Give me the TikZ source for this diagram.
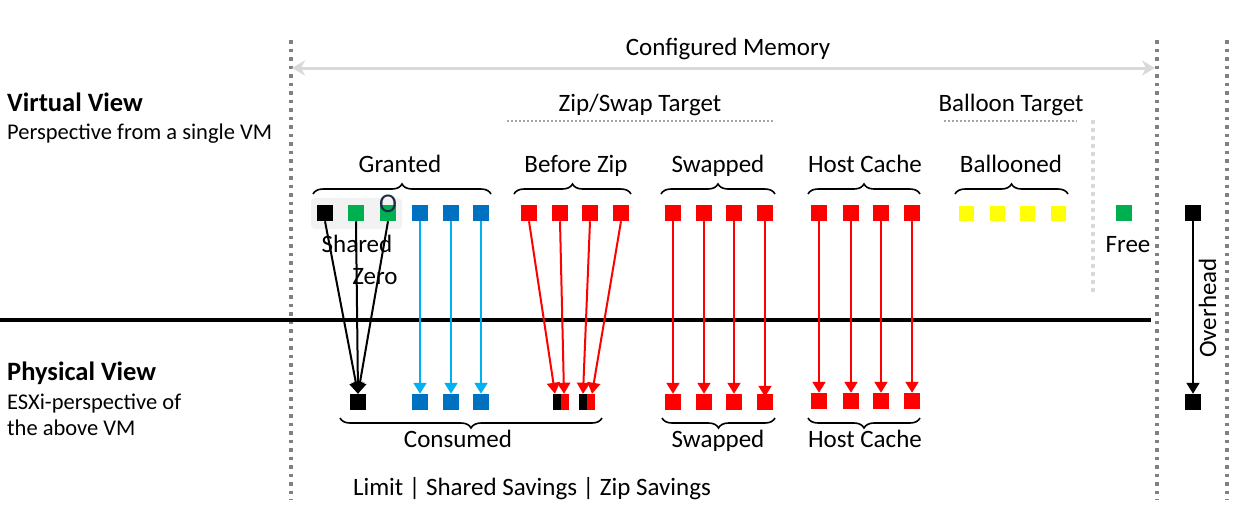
\documentclass[tikz,border=0pt]{standalone}
\usepackage{fontspec}
\setmainfont{Carlito}
\usetikzlibrary{arrows.meta,decorations.pathreplacing}
\definecolor{cRed}{HTML}{FF0000}
\definecolor{cBlue}{HTML}{0070C0}
\definecolor{cLBlue}{HTML}{00B0F0}
\definecolor{cGreen}{HTML}{00B050}
\definecolor{cYellow}{HTML}{FFFF00}
\definecolor{cGray}{HTML}{808080}
\definecolor{cLGray}{HTML}{D9D9D9}
\definecolor{cShade}{HTML}{F2F2F2}
\definecolor{cDot}{HTML}{A6A6A6}
\definecolor{cNavy}{HTML}{1F2A44}
\tikzset{
  sq/.style={minimum size=16.5pt, inner sep=0pt, outer sep=0pt},
  ysq/.style={minimum size=15pt, inner sep=0pt, outer sep=0pt, fill=cYellow},
  lbl/.style={font=\fontsize{25}{30}\selectfont, inner sep=0pt, text height=17pt, text depth=5pt},
  sub/.style={font=\fontsize{22.5}{27}\selectfont, inner sep=0pt, anchor=west, text height=15pt, text depth=5pt},
  hdr/.style={font=\fontsize{26.5}{31}\selectfont\bfseries, inner sep=0pt, anchor=west, text height=18pt, text depth=5pt},
  arr/.style={line width=2pt, -{Triangle[length=11pt,width=13pt]}},
  vdots/.style={draw=cGray, line width=3.5pt, dash pattern=on 3.5pt off 5pt},
  hdots/.style={draw=cDot, line width=2pt, dash pattern=on 2pt off 2pt},
  brc/.style={decorate, decoration={brace, amplitude=10pt, aspect=0.5}, line width=1.6pt},
  split/.style={sq, fill=cRed, path picture={\fill[black] (path picture bounding box.south west) rectangle (path picture bounding box.north);}}
}
\begin{document}
\begin{tikzpicture}[x=1pt,y=-1pt]
\useasboundingbox (0,0) rectangle (1252,520);
% vertical dotted boundaries
\coordinate (v1t) at (291,40); \coordinate (v1b) at (291,500);
\coordinate (v2t) at (1157,40); \coordinate (v2b) at (1157,500);
\coordinate (v3t) at (1227,40); \coordinate (v3b) at (1227,500);
\draw[vdots] (v1t) -- (v1b);
\draw[vdots] (v2t) -- (v2b);
\draw[vdots] (v3t) -- (v3b);
% configured memory
\coordinate (cmL) at (292,68); \coordinate (cmR) at (1155,68);
\draw[cLGray, line width=3pt, {Stealth[length=13pt,width=15pt,inset=4pt]}-{Stealth[length=13pt,width=15pt,inset=4pt]}] (cmL) -- (cmR);
\node[lbl] (cm) at (728,49) {Configured Memory};
% side headings
\node[hdr] (vv) at (7,105) {Virtual View};
\node[sub] (vvs) at (7,134) {Perspective from a single VM};
\node[hdr] (pv) at (7,374) {Physical View};
\node[sub] (pvs1) at (7,404) {ESXi-perspective of};
\node[sub] (pvs2) at (7,430) {the above VM};
% divider
\coordinate (hl1) at (0,320); \coordinate (hl2) at (1151,320);
\draw[black, line width=4pt] (hl1) -- (hl2);
% targets
\node[lbl] (zst) at (640,105) {Zip/Swap Target};
\coordinate (zs1) at (507,121); \coordinate (zs2) at (773,121);
\draw[hdots] (zs1) -- (zs2);
\node[lbl] (bt) at (1011,105) {Balloon Target};
\coordinate (bt1) at (944,121); \coordinate (bt2) at (1077,121);
\draw[hdots] (bt1) -- (bt2);
\coordinate (bv1) at (1093,120); \coordinate (bv2) at (1093,293);
\draw[cLGray, line width=4pt, dash pattern=on 4pt off 4pt] (bv1) -- (bv2);
% group labels and braces (top)
\node[lbl] (lg) at (400,166) {Granted};
\draw[brc] (313,194) -- (491,194);
\node[lbl] (lbz) at (576,166) {Before Zip};
\draw[brc] (514,194) -- (631,194);
\node[lbl] (lsw) at (718,166) {Swapped};
\draw[brc] (661,194) -- (775,194);
\node[lbl] (lhc) at (865,166) {Host Cache};
\draw[brc] (808,194) -- (920,194);
\node[lbl] (lbl2) at (1011,166) {Ballooned};
\draw[brc] (955,194) -- (1068,194);
% shaded area
\fill[cShade, rounded corners=4pt] (311,198) rectangle (402,229);
% top squares
\node[sq, fill=black] (g1) at (325,213) {};
\node[sq, fill=cGreen] (g2) at (356,213) {};
\node[sq, fill=cGreen] (g3) at (388,213) {};
\node[font=\fontsize{27}{30}\selectfont, text=cNavy, inner sep=0pt] (oo) at (388,204) {O};
\node[sq, fill=cBlue] (g4) at (420,213) {};
\node[sq, fill=cBlue] (g5) at (451,213) {};
\node[sq, fill=cBlue] (g6) at (481,213) {};
\node[sq, fill=cRed] (z1) at (529,213) {};
\node[sq, fill=cRed] (z2) at (560,213) {};
\node[sq, fill=cRed] (z3) at (590,213) {};
\node[sq, fill=cRed] (z4) at (621,213) {};
\node[sq, fill=cRed] (s1) at (673,213) {};
\node[sq, fill=cRed] (s2) at (704,213) {};
\node[sq, fill=cRed] (s3) at (734,213) {};
\node[sq, fill=cRed] (s4) at (765,213) {};
\node[sq, fill=cRed] (h1) at (819,213) {};
\node[sq, fill=cRed] (h2) at (851,213) {};
\node[sq, fill=cRed] (h3) at (881,213) {};
\node[sq, fill=cRed] (h4) at (912,213) {};
\node[ysq] (y1) at (966,213) {};
\node[ysq] (y2) at (997,213) {};
\node[ysq] (y3) at (1027,213) {};
\node[ysq] (y4) at (1058,213) {};
\node[sq, fill=cGreen] (fr) at (1124,213) {};
\node[lbl] (lfr) at (1128,246) {Free};
\node[sq, fill=black] (oh1) at (1193,213) {};
% bottom squares
\node[sq, fill=black] (bk) at (358,402) {};
\node[sq, fill=cBlue] (b4) at (420,402) {};
\node[sq, fill=cBlue] (b5) at (451,402) {};
\node[sq, fill=cBlue] (b6) at (481,402) {};
\node[split] (zb1) at (561,402) {};
\node[split] (zb2) at (587,402) {};
\node[sq, fill=cRed] (sb1) at (673,402) {};
\node[sq, fill=cRed] (sb2) at (704,402) {};
\node[sq, fill=cRed] (sb3) at (734,402) {};
\node[sq, fill=cRed] (sb4) at (765,402) {};
\node[sq, fill=cRed] (hb1) at (819,401) {};
\node[sq, fill=cRed] (hb2) at (851,401) {};
\node[sq, fill=cRed] (hb3) at (881,401) {};
\node[sq, fill=cRed] (hb4) at (912,401) {};
\node[sq, fill=black] (oh2) at (1193,402) {};
% labels Shared / Zero
\node[lbl] (lsh) at (357,246) {Shared};
\node[lbl] (lze) at (375,278) {Zero};
% arrows
\draw[arr, black] (g1.south) -- (bk.north);
\draw[arr, black] (g2.south) -- (bk.north);
\draw[arr, black] (g3.south) -- (bk.north);
\draw[arr, cLBlue] (g4.south) -- (b4.north);
\draw[arr, cLBlue] (g5.south) -- (b5.north);
\draw[arr, cLBlue] (g6.south) -- (b6.north);
\draw[arr, cRed] (z1.south) -- ([xshift=-6pt]zb1.north);
\draw[arr, cRed] (z2.south) -- ([xshift=3pt]zb1.north);
\draw[arr, cRed] (z3.south) -- ([xshift=-4pt]zb2.north);
\draw[arr, cRed] (z4.south) -- ([xshift=5pt]zb2.north);
\draw[arr, cRed] (s1.south) -- (sb1.north);
\draw[arr, cRed] (s2.south) -- (sb2.north);
\draw[arr, cRed] (s3.south) -- (sb3.north);
\draw[arr, cRed] (s4.south) -- ([yshift=-3pt]sb4.north);
\draw[arr, cRed] (h1.south) -- (hb1.north);
\draw[arr, cRed] (h2.south) -- (hb2.north);
\draw[arr, cRed] (h3.south) -- (hb3.north);
\draw[arr, cRed] (h4.south) -- (hb4.north);
\draw[arr, black] (oh1.south) -- (oh2.north);
\node[lbl, rotate=90] (loh) at (1210,308) {Overhead};
% bottom braces
\draw[brc] (602,418) -- (340,418);
\node[lbl] (lcons) at (458,441) {Consumed};
\draw[brc] (775,418) -- (662,418);
\node[lbl] (lsw2) at (718,441) {Swapped};
\draw[brc] (920,418) -- (808,418);
\node[lbl] (lhc2) at (865,441) {Host Cache};
\node[lbl] (lim) at (532,489) {Limit | Shared Savings | Zip Savings};
\end{tikzpicture}
\end{document}
